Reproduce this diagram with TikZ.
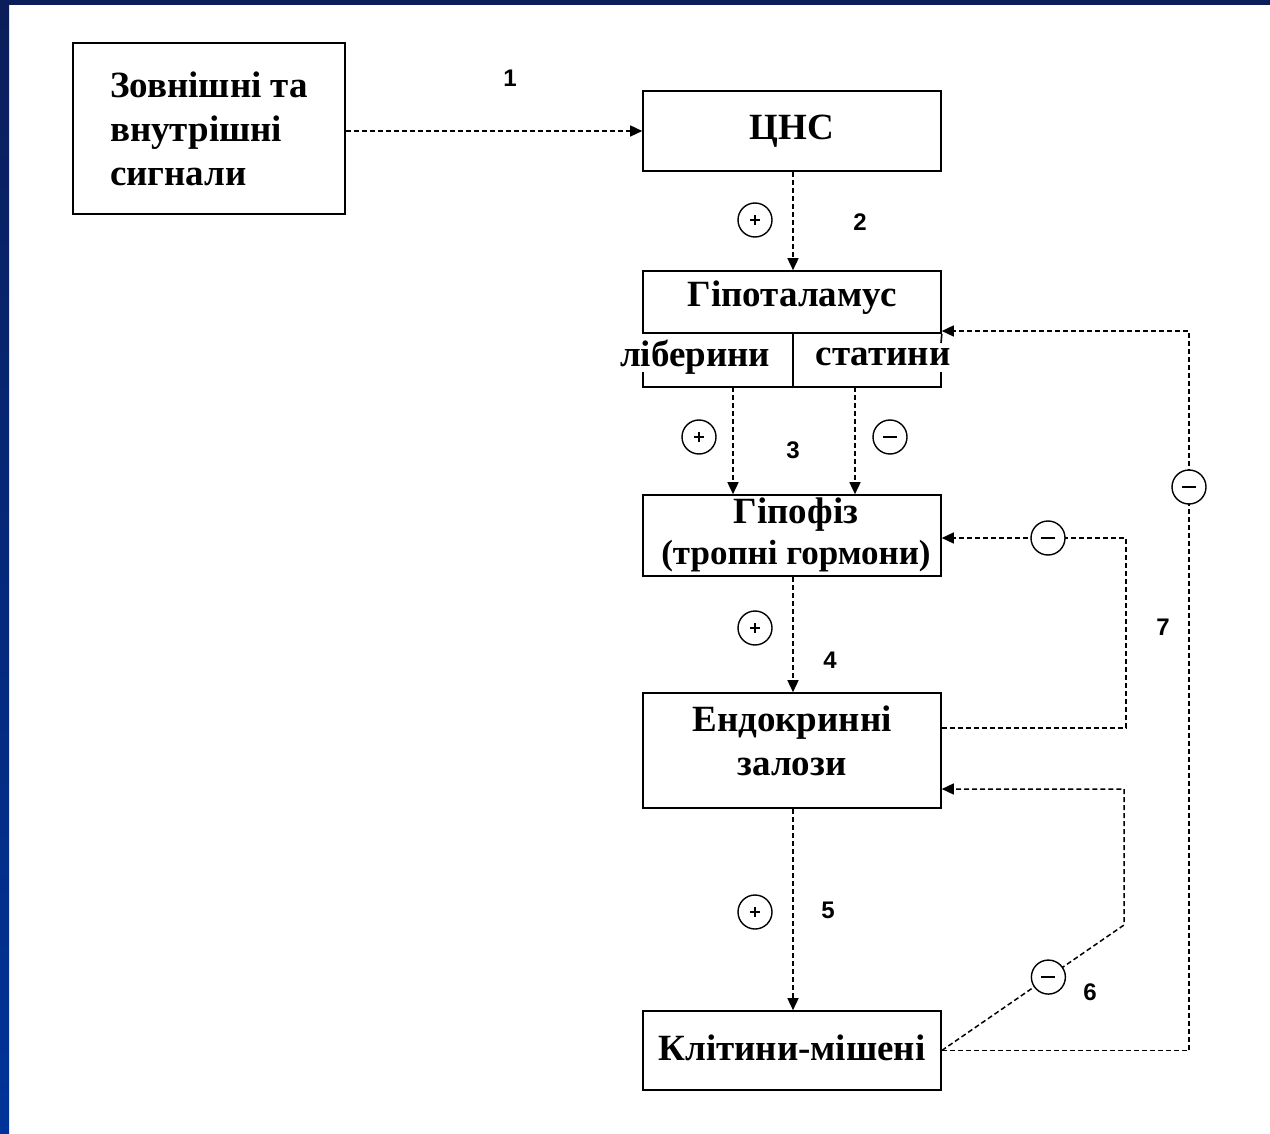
\documentclass[tikz,border=0pt]{standalone}
\usepackage{fontspec}
\setmainfont{Liberation Serif}
\newfontfamily\numfont{Liberation Sans}
\usetikzlibrary{arrows.meta,calc}
\definecolor{navytop}{HTML}{0B1E5A}
\definecolor{navybot}{HTML}{003399}
\begin{document}
\begin{tikzpicture}[x=1pt,y=-1pt,
  box/.style={draw, line width=1.6pt, inner sep=0pt, align=center,
    font=\bfseries\fontsize{37}{44}\selectfont},
  conn/.style={line width=1.5pt, dash pattern=on 5pt off 3pt},
  arr/.style={conn, -{Triangle[length=12pt,width=11pt]}},
  sign/.style={circle, draw, line width=1.4pt, minimum size=34pt, inner sep=0pt, fill=white},
  plus/.style={sign, path picture={
    \draw[line width=1.5pt] ([xshift=-5pt]path picture bounding box.center) -- ([xshift=5pt]path picture bounding box.center);
    \draw[line width=1.5pt] ([yshift=-5pt]path picture bounding box.center) -- ([yshift=5pt]path picture bounding box.center);}},
  minus/.style={sign, path picture={
    \draw[line width=2.2pt] ([xshift=-7pt]path picture bounding box.center) -- ([xshift=7pt]path picture bounding box.center);}},
  num/.style={font=\numfont\bfseries\fontsize{24}{28}\selectfont},
  lbl/.style={font=\bfseries\fontsize{37}{44}\selectfont, inner sep=0pt}
]
\useasboundingbox (0,0) rectangle (1270,1134);
\fill[white] (0,0) rectangle (1270,1134);
\shade[top color=navytop, bottom color=navybot] (0,0) rectangle (9,1134);
\fill[navytop] (0,0) rectangle (1270,5);

% boxes
\node[box, minimum width=272pt, minimum height=171pt, align=left] (ext) at (209,128.5)
  {Зовнішні та\\внутрішні\\сигнали};
\node[box, minimum width=298pt, minimum height=80pt] (cns) at (792,131) {ЦНС};
\node[box, minimum width=298pt, minimum height=62pt] (hyp) at (792,302) {};
\node[lbl] (hyptxt) at (792,298) {Гіпоталамус};
\node[box, minimum width=298pt, minimum height=81pt] (pit) at (792,535.5) {};
\node[lbl, align=center, font=\bfseries\fontsize{37}{41}\selectfont] (pittxt) at (796,535)
  {Гіпофіз\\{\fontsize{35}{38}\selectfont(тропні гормони)}};
\node[box, minimum width=298pt, minimum height=115pt] (endo) at (792,750.5) {};
\node[lbl, align=center] (endotxt) at (792,741) {Ендокринні\\залози};
\node[box, minimum width=298pt, minimum height=79pt] (cell) at (792,1050.5) {};
\node[lbl] (celltxt) at (792,1048) {Клітини-мішені};

% hypothalamus lower part
\coordinate (lbot) at (643,387);
\coordinate (rbot) at (941,387);
\coordinate (mid) at (793,333);
\draw[line width=1.6pt] (643,372) -- (lbot) -- (rbot) -- (941,372);
\draw[line width=1.6pt] (hyp.south east) -- (941,343);
\draw[line width=1.6pt] (mid) -- (mid |- lbot);
\node[lbl] (lib) at (695,357) {ліберини};
\node[lbl] (stat) at (883,357) {статини};

% main chain
\draw[arr] (ext.east |- cns.west) -- (cns.west);
\draw[arr] (cns.south -| mid) -- (hyp.north -| mid);
\coordinate (a3) at (733,387);
\coordinate (b3) at (855,387);
\draw[arr] (a3) -- (a3 |- pit.north);
\draw[arr] (b3) -- (b3 |- pit.north);
\draw[arr] (pit.south -| mid) -- (endo.north -| mid);
\draw[arr] (endo.south -| mid) -- (cell.north -| mid);

% feedback 6
\coordinate (c6) at (1124,925);
\coordinate (d6) at (1124,789);
\draw[arr] (cell.east) -- (c6) -- (d6) -- (d6 -| endo.east);
\node[minus] (m6) at ($(cell.east)!0.585!(c6)$) {};

% feedback 7 inner
\coordinate (e7) at (1126,728);
\coordinate (f7) at (1126,538);
\draw[arr] (e7 -| endo.east) -- (e7) -- (f7) -- (f7 -| pit.east);
\node[minus] (m7a) at (1048,538) {};

% feedback 7 outer
\coordinate (h7) at (1189,331);
\draw[arr] (cell.east) -- (cell.east -| h7) -- (h7) -- (h7 -| hyp.east);
\node[minus] (m7b) at (1189,487) {};

% signs
\node[plus] (p2) at (755,220) {};
\node[plus] (p3) at (699,437) {};
\node[minus] (m3) at (890,437) {};
\node[plus] (p4) at (755,628) {};
\node[plus] (p5) at (755,912) {};

% numbers
\node[num] (n1) at (510,78) {1};
\node[num] (n2) at (860,222) {2};
\node[num] (n3) at (793,450) {3};
\node[num] (n4) at (830,660) {4};
\node[num] (n5) at (828,910) {5};
\node[num] (n6) at (1090,992) {6};
\node[num] (n7) at (1163,627) {7};
\end{tikzpicture}
\end{document}
